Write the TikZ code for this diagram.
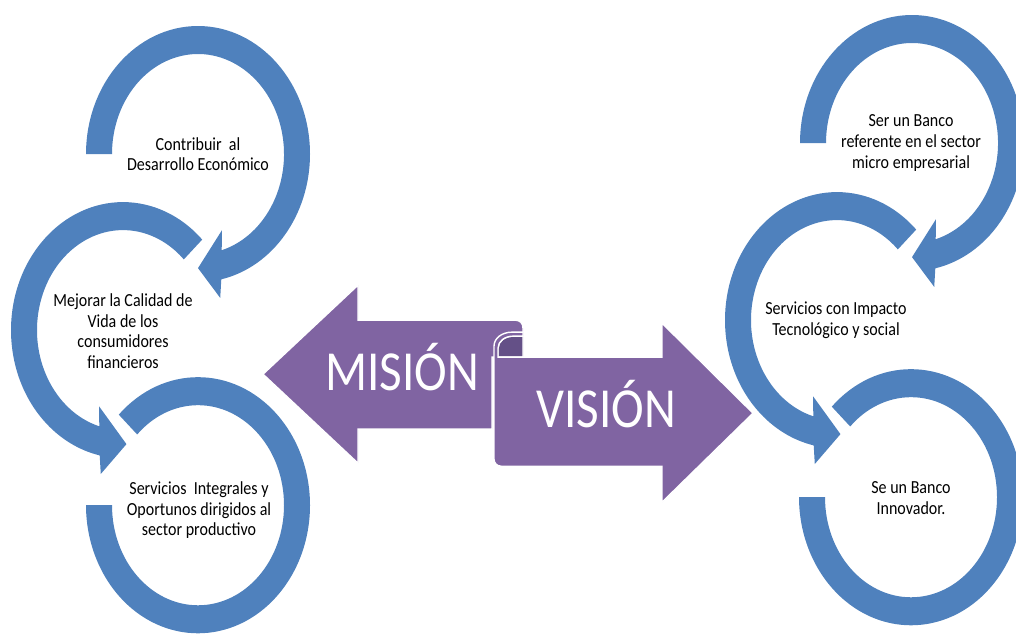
\documentclass[tikz,border=0pt]{standalone}
\usepackage{fontspec}
\setmainfont{Carlito}
\definecolor{bandblue}{RGB}{79,129,189}
\definecolor{ribbon}{RGB}{128,100,162}
\definecolor{ribbondark}{RGB}{100,80,135}
\tikzset{
	band/.style={fill=bandblue},
	ribbonarrow/.style={fill=ribbon,draw=white,line width=1pt},
	goal/.style={align=center,font=\fontsize{11.4}{12.8}\selectfont},
	bigword/.style={text=white,anchor=base,font=\fontsize{35}{40}\selectfont}
}
\begin{document}
\begin{tikzpicture}[x=0.025cm,y=-0.021739cm,yscale=1.15,every node/.append style={transform shape}]
	\useasboundingbox (0,0) rectangle (1016,633);
	\begin{scope}[shift={(198,154)}]
	\fill[band] (180:112 and 128) arc[start angle=180,end angle=438,x radius=112,y radius=128] -- (80:128 and 146) -- (90:99 and 114) -- (70:70 and 81) -- (74:86 and 100) arc[start angle=434,end angle=180,x radius=86,y radius=100] -- cycle;
	\end{scope}
	\begin{scope}[shift={(123,330)}]
	\fill[band] (315:112 and 128) arc[start angle=315,end angle=102,x radius=112,y radius=128] -- (100:128 and 146) -- (88:99 and 114) -- (110:70 and 81) -- (106:86 and 100) arc[start angle=106,end angle=315,x radius=86,y radius=100] -- cycle;
	\end{scope}
	\begin{scope}[shift={(198,505)}]
	\fill[band] (225:112 and 128) arc[start angle=225,end angle=540,x radius=112,y radius=128] -- (540:86 and 100) arc[start angle=540,end angle=225,x radius=86,y radius=100] -- cycle;
	\end{scope}
	\begin{scope}[shift={(912,143)}]
	\fill[band] (180:112 and 128) arc[start angle=180,end angle=438,x radius=112,y radius=128] -- (80:128 and 146) -- (90:99 and 114) -- (70:70 and 81) -- (74:86 and 100) arc[start angle=434,end angle=180,x radius=86,y radius=100] -- cycle;
	\end{scope}
	\begin{scope}[shift={(837,320)}]
	\fill[band] (315:112 and 128) arc[start angle=315,end angle=102,x radius=112,y radius=128] -- (100:128 and 146) -- (88:99 and 114) -- (110:70 and 81) -- (106:86 and 100) arc[start angle=106,end angle=315,x radius=86,y radius=100] -- cycle;
	\end{scope}
	\begin{scope}[shift={(911,497)}]
	\fill[band] (225:112 and 128) arc[start angle=225,end angle=540,x radius=112,y radius=128] -- (540:86 and 100) arc[start angle=540,end angle=225,x radius=86,y radius=100] -- cycle;
	\end{scope}
	\draw[ribbonarrow] (263,374) -- (358,285) -- (358,320) -- (515,320) .. controls (520,320) and (523,323) .. (523,328) -- (523,357) -- (492,357) -- (492,429) -- (358,429) -- (358,463) -- cycle;
	\draw[ribbonarrow,fill=ribbondark] (523,336) -- (523,357) -- (498,357) -- (498,348) .. controls (498,341) and (505,336) .. (513,336) -- cycle;
	\draw[ribbonarrow] (494,400) [rounded corners=5pt] -- (494,466) -- (580,466) [sharp corners] -- (662,466) -- (662,502) -- (753,413) -- (662,323) -- (662,357) -- (498,357) -- (498,348) .. controls (498,341) and (505,336) .. (513,336) -- (523,336) -- (523,332) -- (512,332) .. controls (502,332) and (494,338) .. (494,346) -- cycle;
	\node[goal] (contribuir) at (198,154) {Contribuir\ \ al\\Desarrollo Económico};
	\node[goal] (calidad) at (123,331) {Mejorar la Calidad de\\Vida de los\\consumidores\\financieros};
	\node[goal] (integrales) at (199,510) {Servicios\ \ Integrales y\\Oportunos dirigidos al\\sector productivo};
	\node[goal] (referente) at (911,143) {Ser un Banco\\referente en el sector\\micro empresarial};
	\node[goal] (impacto) at (836,320) {Servicios con Impacto\\Tecnológico y social};
	\node[goal] (innovador) at (911,498) {Se un Banco\\Innovador.};
	\node[bigword] (mision) at (402,390) {MISIÓN};
	\node[bigword] (vision) at (606,427) {VISIÓN};
\end{tikzpicture}
\end{document}
